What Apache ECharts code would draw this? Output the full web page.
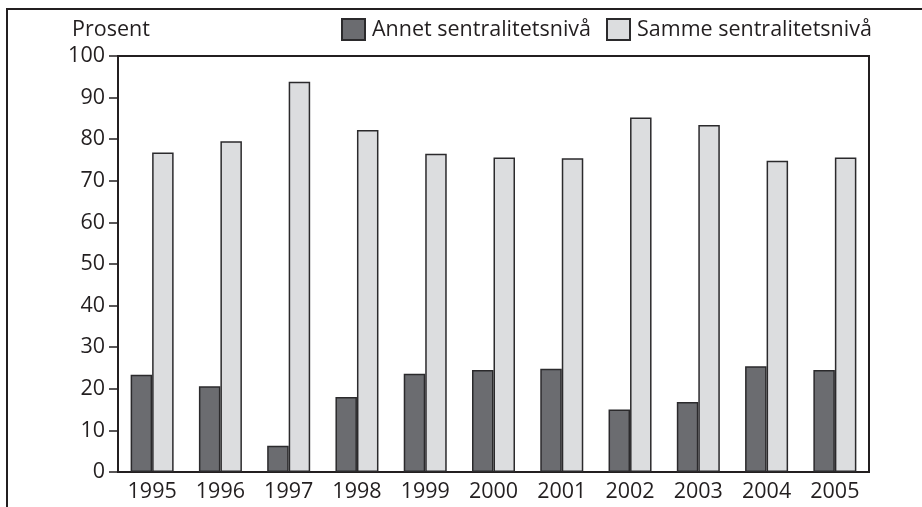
<!DOCTYPE html>
<html>
<head>
<meta charset="utf-8">
<script src="https://cdn.jsdelivr.net/npm/echarts@6/dist/echarts.min.js"></script>
<style>
html,body{margin:0;padding:0;background:#fff;}
#chart{width:922px;height:507px;}
</style>
</head>
<body>
<div id="chart"></div>
<script>
const categories = ['1995','1996','1997','1998','1999','2000','2001','2002','2003','2004','2005'];
const annet = [23.4, 20.6, 6.3, 18.0, 23.6, 24.5, 24.8, 15.0, 16.8, 25.4, 24.5];
const samme = [76.8, 79.5, 93.8, 82.2, 76.5, 75.6, 75.4, 85.2, 83.4, 74.8, 75.6];
const seriesNames = ['Annet sentralitetsnivå', 'Samme sentralitetsnivå'];
const yAxisTitle = 'Prosent';

const FONT = 'Open Sans';
const FS = 21.5;
const TXT = '#231f20';
const legendCommon = {
  top: 18,
  padding: 0,
  itemWidth: 23, itemHeight: 21,
  icon: 'rect',
  textStyle: { fontFamily: FONT, fontSize: FS, color: TXT, padding: [0, 0, 0, 2] }
};
const chart = echarts.init(document.getElementById('chart'));
chart.setOption({
  animation: false,
  backgroundColor: '#ffffff',
  textStyle: { fontFamily: FONT, color: TXT },
  grid: { left: 118, right: 53, top: 56, bottom: 35, show: true, borderColor: TXT, borderWidth: 2, backgroundColor: 'transparent' },
  legend: [
    Object.assign({ left: 341, data: [seriesNames[0]] }, legendCommon),
    Object.assign({ left: 606, data: [seriesNames[1]] }, legendCommon)
  ],
  graphic: [
    { type: 'line', shape: { x1: 7, y1: 9, x2: 7, y2: 507 }, style: { stroke: '#231f20', lineWidth: 2 } },
    { type: 'line', shape: { x1: 6, y1: 9, x2: 922, y2: 9 }, style: { stroke: '#231f20', lineWidth: 2 } },
    { type: 'text', x: 72, y: 30, style: { text: yAxisTitle, fontFamily: FONT, fontSize: FS, fill: TXT, verticalAlign: 'middle' } }
  ],
  xAxis: {
    type: 'category',
    data: categories,
    axisLine: { show: true, lineStyle: { color: TXT, width: 2 } },
    axisTick: { show: false },
    axisLabel: { fontFamily: FONT, fontSize: FS, color: TXT, margin: 9 }
  },
  yAxis: {
    type: 'value',
    min: 0, max: 100, interval: 10,
    splitLine: { show: false },
    axisLine: { show: true, lineStyle: { color: TXT, width: 2 } },
    axisTick: { show: true, length: 9, lineStyle: { color: TXT, width: 1.5 } },
    axisLabel: { fontFamily: FONT, fontSize: FS, color: TXT, margin: 13 }
  },
  series: [
    { name: seriesNames[0], type: 'bar', data: annet, barWidth: 21.5, barGap: '0%',
      itemStyle: { color: '#6b6c70', borderColor: '#2b2a2c', borderWidth: 1.5 } },
    { name: seriesNames[1], type: 'bar', data: samme, barWidth: 21.5, barGap: '0%',
      itemStyle: { color: '#dcdddf', borderColor: '#2b2a2c', borderWidth: 1.5 } }
  ]
});
</script>
</body>
</html>
